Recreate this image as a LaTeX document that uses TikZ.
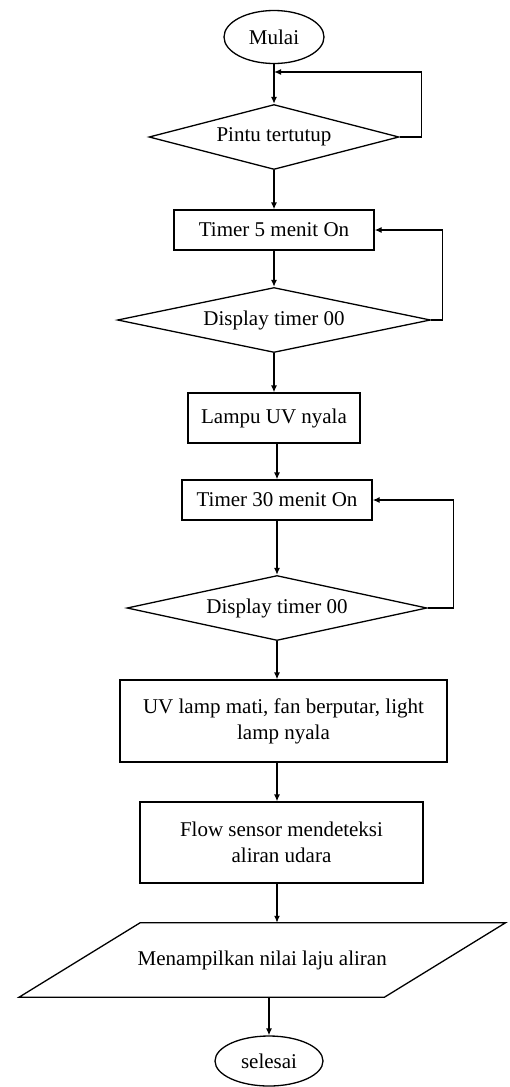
\documentclass[tikz,border=0pt]{standalone}
\usepackage{fontspec}
\setmainfont{Liberation Serif}
\usetikzlibrary{shapes.geometric,arrows.meta}
\begin{document}
\begin{tikzpicture}[x=1pt,y=-1pt,
  every node/.style={font=\fontsize{21}{26}\selectfont, inner sep=0pt},
  shapeline/.style={draw=black, line width=1.3pt},
  term/.style={shapeline, ellipse},
  proc/.style={shapeline, rectangle, align=center},
  dec/.style={shapeline, diamond, shape aspect=4},
  flowline/.style={draw=black, line width=1.3pt, -{Latex[length=7pt,width=6pt]}}
]
\useasboundingbox (0,0) rectangle (509,1087);

\node[term, minimum width=100pt, minimum height=53pt] (mulai) at (274,37) {Mulai};
\node[dec, minimum width=250pt, minimum height=65pt] (pintu) at (274,137) {Pintu tertutup};
\node[proc, minimum width=200pt, minimum height=40pt] (timer5) at (274,230) {Timer 5 menit On};
\node[dec, minimum width=313pt, minimum height=65pt] (disp1) at (274,320) {Display timer 00};
\node[proc, minimum width=172pt, minimum height=50pt] (lampu) at (274,418) {Lampu UV nyala};
\node[proc, minimum width=190pt, minimum height=40pt] (timer30) at (277,500) {Timer 30 menit On};
\node[dec, minimum width=300pt, minimum height=65pt] (disp2) at (277,608) {Display timer 00};
\node[proc, minimum width=327pt, minimum height=82pt] (uv) at (283.5,721) {UV lamp mati, fan berputar, light\\lamp nyala};
\node[proc, minimum width=283pt, minimum height=81pt] (flow) at (281.5,842.5) {Flow sensor mendeteksi\\aliran udara};
\node[minimum width=365pt, minimum height=74pt] (para) at (262.25,960) {Menampilkan nilai laju aliran};
\draw[shapeline] ([xshift=60.5pt]para.north west) -- ([xshift=60.5pt]para.north east) -- ([xshift=-60.5pt]para.south east) -- ([xshift=-60.5pt]para.south west) -- cycle;
\node[term, minimum width=108pt, minimum height=50pt] (selesai) at (269,1061) {selesai};

\coordinate (j1) at (274,72);

\draw[flowline] (mulai.south) -- (pintu.north);
\draw[flowline] (pintu.east) -- ++(22,0) |- (j1);
\draw[flowline] (pintu.south) -- (timer5.north);
\draw[flowline] (timer5.south) -- (disp1.north);
\draw[flowline] (disp1.east) -- ++(11,0) |- (timer5.east);
\draw[flowline] (disp1.south) -- (lampu.north);
\draw[flowline] (lampu.south -| timer30.north) -- (timer30.north);
\draw[flowline] (timer30.south) -- (disp2.north);
\draw[flowline] (disp2.east) -- ++(26,0) |- (timer30.east);
\draw[flowline] (disp2.south) -- (disp2.south |- uv.north);
\draw[flowline] (disp2.south |- uv.south) -- (disp2.south |- flow.north);
\draw[flowline] (disp2.south |- flow.south) -- (disp2.south |- para.north);
\draw[flowline] (selesai.north |- para.south) -- (selesai.north);
\end{tikzpicture}
\end{document}
